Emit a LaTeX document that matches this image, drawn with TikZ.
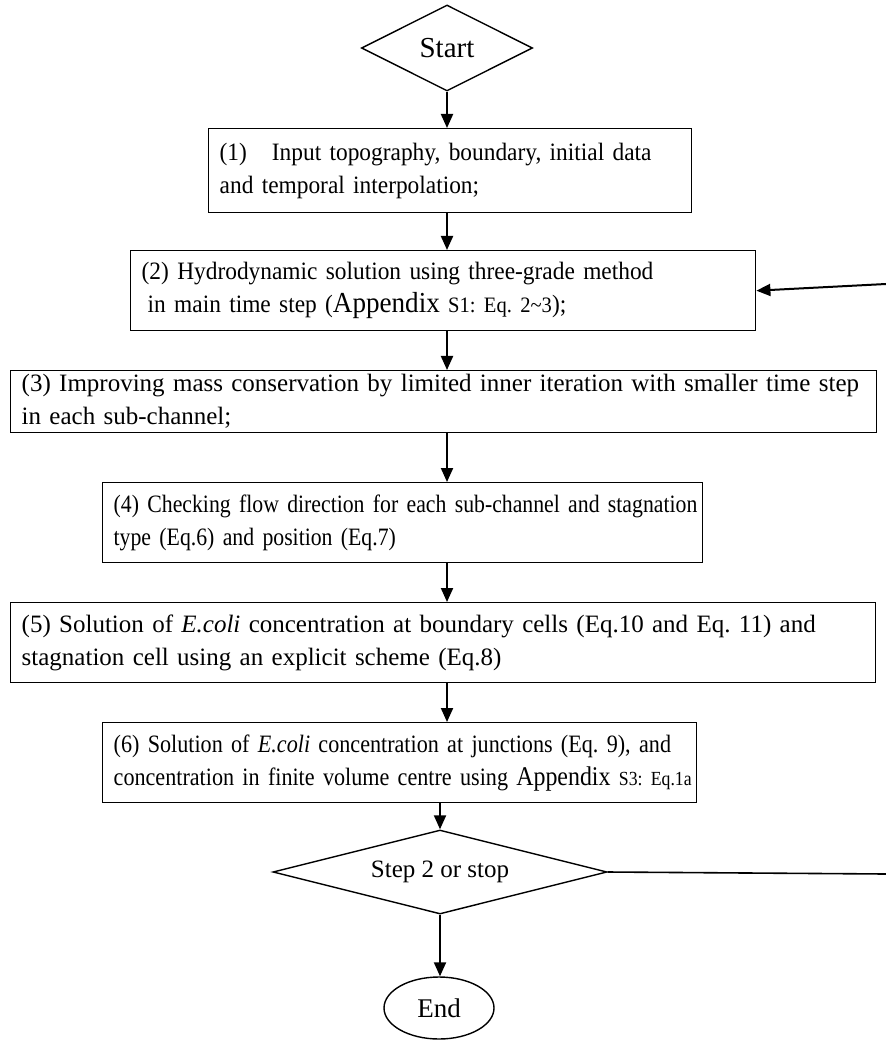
\documentclass[tikz,border=0pt]{standalone}
\usepackage{fontspec}
\setmainfont{Liberation Serif}
\newfontfamily\slimA[FakeStretch=0.935]{Liberation Serif}
\newfontfamily\slimB[FakeStretch=0.87]{Liberation Serif}
\newfontfamily\slimC[FakeStretch=0.885]{Liberation Serif}
\usetikzlibrary{shapes.geometric,arrows.meta}

\newcommand{\appx}{{\fontsize{14.5}{17}\selectfont Appendix}}
\newcommand{\smalleq}[1]{{\fontsize{11}{17}\selectfont #1}}
\frenchspacing

\begin{document}
\begin{tikzpicture}[
  x=0.5pt, y=-0.5pt,
  flownode/.style={draw, line width=0.7pt, font=\fontsize{12.5}{16.5}\selectfont},
  stepbox/.style={flownode, rectangle, anchor=north west, align=left,
    inner xsep=5.5pt, inner ysep=0pt},
  decision/.style={flownode, diamond, inner sep=0pt},
  flowarrow/.style={line width=1pt, -{Triangle[width=6pt,length=7pt]}},
  backline/.style={line width=0.8pt},
]
\useasboundingbox (0,0) rectangle (886,1063);

% Start and the six steps
\node[decision, aspect=2, minimum width=85.5pt, minimum height=43pt,
  font=\fontsize{14.5}{16}\selectfont] (start) at (447,48) {Start};
\node[stepbox, text width=230.5pt, minimum height=42pt] (box1) at (208,128)
  {\slimA\mbox{(1)\ \ \ Input topography, boundary, initial data}\\
   \mbox{and temporal interpolation;}};
\node[stepbox, text width=301.5pt, minimum height=40pt] (box2) at (130,250)
  {\slimA\mbox{(2) Hydrodynamic solution using three-grade method}\\
   \mbox{\hspace{3pt}in main time step (\appx{} \smalleq{S1: Eq. 2\textasciitilde3});}};
\node[stepbox, text width=422pt, minimum height=31pt] (box3) at (10,370)
  {\mbox{(3) Improving mass conservation by limited inner iteration with smaller time step}\\
   \mbox{in each sub-channel;}};
\node[stepbox, text width=289pt, minimum height=40pt] (box4) at (102,482)
  {\slimB\mbox{(4) Checking flow direction for each sub-channel and stagnation}\\
   \mbox{type (Eq.6) and position (Eq.7)}};
\node[stepbox, text width=421.5pt, minimum height=40pt] (box5) at (10,602)
  {\mbox{(5) Solution of \textit{E.coli} concentration at boundary cells (Eq.10 and Eq. 11) and}\\
   \mbox{stagnation cell using an explicit scheme (Eq.8)}};
\node[stepbox, text width=286pt, minimum height=40pt] (box6) at (102,722)
  {\slimC\mbox{(6) Solution of \textit{E.coli} concentration at junctions (Eq. 9), and}\\
   \mbox{concentration in finite volume centre using {\fontsize{13.5}{17}\selectfont Appendix}
   {\fontsize{10}{17}\selectfont S3: Eq.1a}}};

% Decision and end
\node[decision, aspect=3.9, minimum width=167pt, minimum height=42pt] (check) at (440,872) {Step 2 or stop};
\node[flownode, ellipse, minimum width=55pt, minimum height=31pt, inner sep=0pt,
  font=\fontsize{13.5}{16}\selectfont] (stop) at (439,1008) {End};

% Main flow (arrows keep to one column)
\draw[flowarrow] (start.south) -- (start.south |- box1.north);
\foreach \a/\b in {box1/box2, box2/box3, box3/box4, box4/box5, box5/box6}
  \draw[flowarrow] (\a.south -| start.south) -- (\b.north -| start.south);
\draw[flowarrow] (box6.south -| check.north) -- (check.north);
\draw[flowarrow] (check.south) -- (check.south |- stop.north);

% Loop back to step 2 (runs off the right edge)
\coordinate (loopbot) at (886,874);
\coordinate (looptop) at (886,284);
\draw[backline] (check.east) -- (loopbot);
\draw[flowarrow] (looptop) -- (box2.east);
\end{tikzpicture}
\end{document}
